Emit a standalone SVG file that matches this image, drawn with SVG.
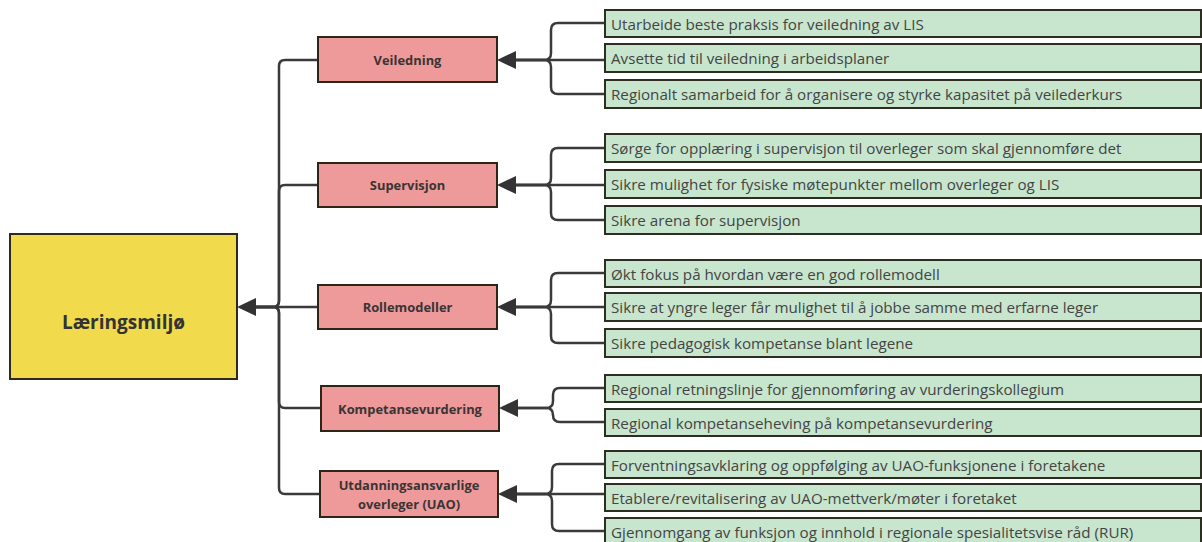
<svg xmlns="http://www.w3.org/2000/svg" width="1202" height="542" viewBox="0 0 1202 542">
<defs>
<style>
.root{fill:#F1DA4B;stroke:#2e2a1e;stroke-width:2}
.mid{fill:#EE9A9A;stroke:#2e2418;stroke-width:2}
.leaf{fill:#C8E6CE;stroke:#2e2d22;stroke-width:2}
.rt{font-family:"Open Sans","Liberation Sans",sans-serif;font-weight:bold;font-size:19px;fill:#333;text-anchor:middle;dominant-baseline:central}
.mt{font-family:"Open Sans","Liberation Sans",sans-serif;font-weight:bold;font-size:12.9px;fill:#3a3434;text-anchor:middle;dominant-baseline:central}
.lt{font-family:"Open Sans","Liberation Sans",sans-serif;font-size:15.2px;fill:#444;dominant-baseline:central}
.c{fill:none;stroke:#3a3a3a;stroke-width:2.5}
.ah{fill:#333}
</style>
</defs>
<g id="connectors">
<path class="c" d="M256 307H273Q279 307 279 301V66Q279 60 285 60H318"/>
<path class="c" d="M256 307H273Q279 307 279 301V191Q279 185 285 185H318"/>
<path class="c" d="M256 307H318"/>
<path class="c" d="M256 307H273Q279 307 279 313V402Q279 408 285 408H321"/>
<path class="c" d="M256 307H273Q279 307 279 313V488Q279 494 285 494H320"/>
<polygon class="ah" points="237,307 256,298 256,316"/>
<path class="c" d="M516 60H544Q551 60 551 53V30Q551 23 558 23H605"/>
<path class="c" d="M516 60H605"/>
<path class="c" d="M516 60H544Q551 60 551 67V87Q551 94 558 94H605"/>
<polygon class="ah" points="497,60 516,51 516,69"/>
<path class="c" d="M516 185H544Q551 185 551 178V155Q551 148 558 148H605"/>
<path class="c" d="M516 185H605"/>
<path class="c" d="M516 185H544Q551 185 551 192V213Q551 220 558 220H605"/>
<polygon class="ah" points="497,185 516,176 516,194"/>
<path class="c" d="M516 307H544Q551 307 551 300V280Q551 273 558 273H605"/>
<path class="c" d="M516 307H605"/>
<path class="c" d="M516 307H544Q551 307 551 314V336Q551 343 558 343H605"/>
<polygon class="ah" points="497,307 516,298 516,316"/>
<path class="c" d="M518 408H546Q553 408 553 401V395Q553 388 560 388H605"/>
<path class="c" d="M518 408H546Q553 408 553 415V415Q553 422 560 422H605"/>
<polygon class="ah" points="499,408 518,399 518,417"/>
<path class="c" d="M517 494H545Q552 494 552 487V471Q552 464 559 464H605"/>
<path class="c" d="M517 494H605"/>
<path class="c" d="M517 494H545Q552 494 552 501V524Q552 531 559 531H605"/>
<polygon class="ah" points="498,494 517,485 517,503"/>
</g>
<g id="root"><rect class="root" x="10" y="234" width="227" height="145"/><text class="rt" x="123.5" y="322">Læringsmiljø</text></g>
<g id="veiledning"><rect class="mid" x="318" y="37" width="179" height="45"/><text class="mt" x="407.5" y="60">Veiledning</text></g>
<g id="supervisjon"><rect class="mid" x="318" y="163" width="179" height="44"/><text class="mt" x="407.5" y="185">Supervisjon</text></g>
<g id="rollemodeller"><rect class="mid" x="318" y="285" width="179" height="44"/><text class="mt" x="407.5" y="307">Rollemodeller</text></g>
<g id="kompetansevurdering"><rect class="mid" x="321" y="386" width="178" height="45"/><text class="mt" x="410" y="408.5">Kompetansevurdering</text></g>
<g id="uao"><rect class="mid" x="320" y="471" width="178" height="46"/><text class="mt" x="409" y="485">Utdanningsansvarlige</text><text class="mt" x="409" y="504">overleger (UAO)</text></g>
<g id="leaf-v1"><rect class="leaf" x="605" y="10" width="596" height="27"/><text class="lt" x="611" y="23.5">Utarbeide beste praksis for veiledning av LIS</text></g>
<g id="leaf-v2"><rect class="leaf" x="605" y="44" width="596" height="28"/><text class="lt" x="611" y="58">Avsette tid til veiledning i arbeidsplaner</text></g>
<g id="leaf-v3"><rect class="leaf" x="605" y="80" width="596" height="28"/><text class="lt" x="611" y="94">Regionalt samarbeid for å organisere og styrke kapasitet på veilederkurs</text></g>
<g id="leaf-s1"><rect class="leaf" x="605" y="134" width="596" height="28"/><text class="lt" x="611" y="148">Sørge for opplæring i supervisjon til overleger som skal gjennomføre det</text></g>
<g id="leaf-s2"><rect class="leaf" x="605" y="170" width="596" height="28"/><text class="lt" x="611" y="184">Sikre mulighet for fysiske møtepunkter mellom overleger og LIS</text></g>
<g id="leaf-s3"><rect class="leaf" x="605" y="206" width="596" height="28"/><text class="lt" x="611" y="220">Sikre arena for supervisjon</text></g>
<g id="leaf-r1"><rect class="leaf" x="605" y="260" width="596" height="27"/><text class="lt" x="611" y="273.5">Økt fokus på hvordan være en god rollemodell</text></g>
<g id="leaf-r2"><rect class="leaf" x="605" y="293" width="596" height="28"/><text class="lt" x="611" y="307">Sikre at yngre leger får mulighet til å jobbe samme med erfarne leger</text></g>
<g id="leaf-r3"><rect class="leaf" x="605" y="329" width="596" height="28"/><text class="lt" x="611" y="343">Sikre pedagogisk kompetanse blant legene</text></g>
<g id="leaf-k1"><rect class="leaf" x="605" y="375" width="596" height="27"/><text class="lt" x="611" y="388.5">Regional retningslinje for gjennomføring av vurderingskollegium</text></g>
<g id="leaf-k2"><rect class="leaf" x="605" y="409" width="596" height="27"/><text class="lt" x="611" y="422.5">Regional kompetanseheving på kompetansevurdering</text></g>
<g id="leaf-u1"><rect class="leaf" x="605" y="451" width="596" height="27"/><text class="lt" x="611" y="464.5">Forventningsavklaring og oppfølging av UAO-funksjonene i foretakene</text></g>
<g id="leaf-u2"><rect class="leaf" x="605" y="484" width="596" height="27"/><text class="lt" x="611" y="497.5">Etablere/revitalisering av UAO-mettverk/møter i foretaket</text></g>
<g id="leaf-u3"><rect class="leaf" x="605" y="518" width="596" height="28"/><text class="lt" x="611" y="531.5">Gjennomgang av funksjon og innhold i regionale spesialitetsvise råd (RUR)</text></g>
</svg>
